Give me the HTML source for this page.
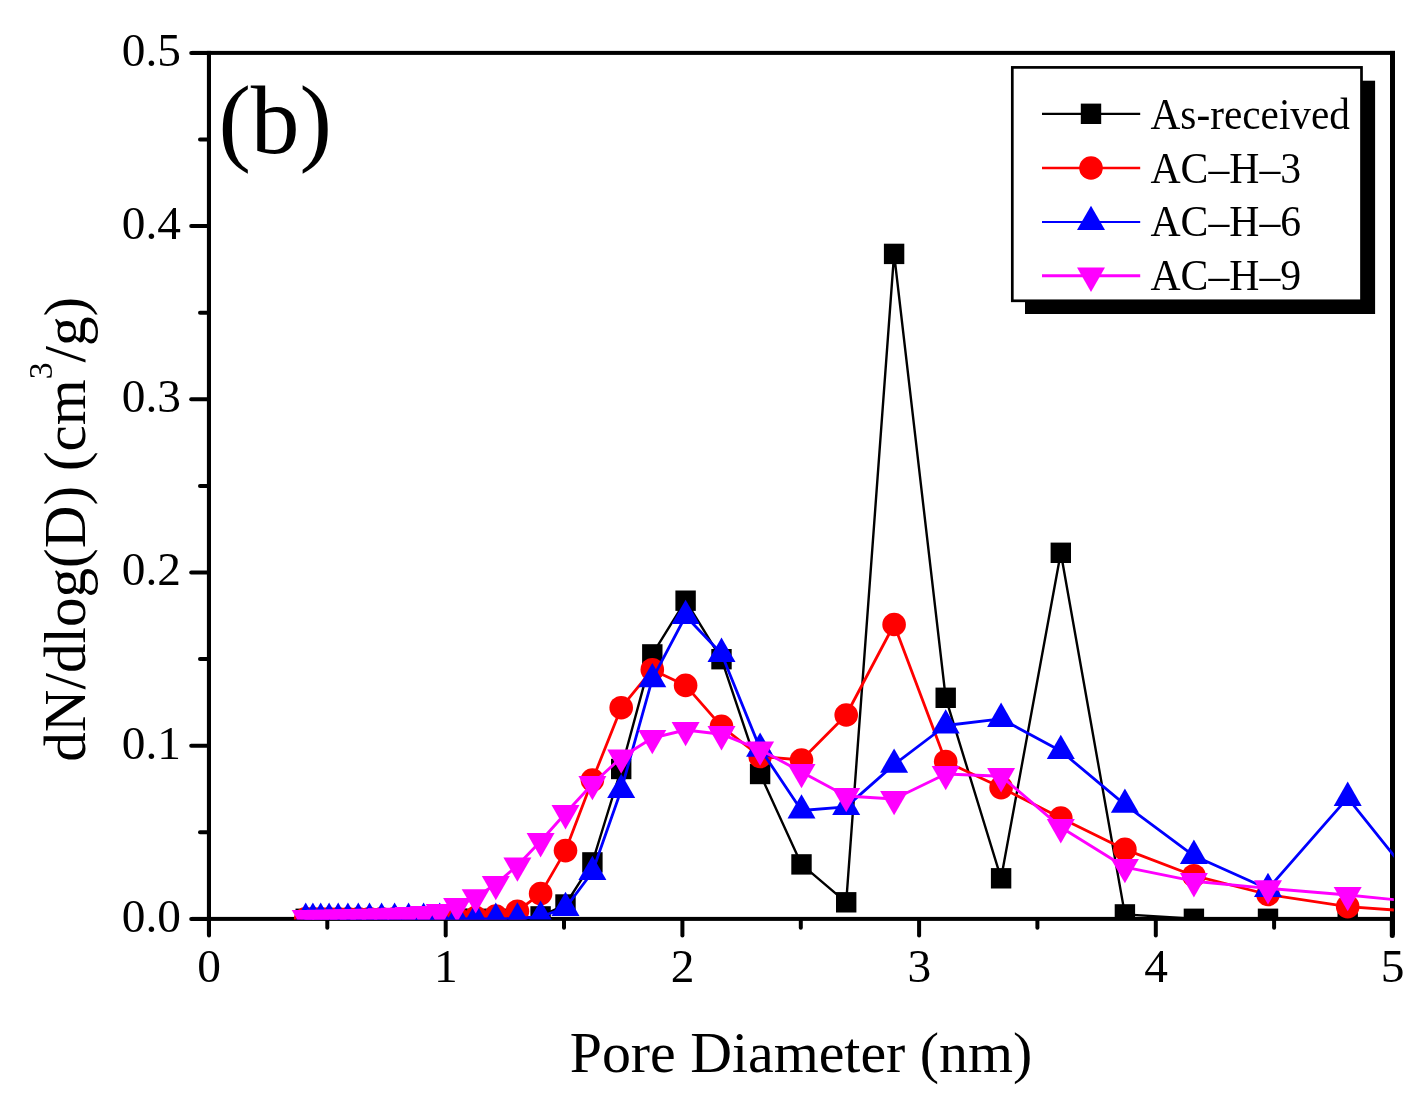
<!DOCTYPE html>
<html><head><meta charset="utf-8"><title>Pore size distribution (b)</title>
<style>
html,body{margin:0;padding:0;background:#fff;}
svg{display:block;}
text{font-family:"Liberation Serif","Times New Roman",serif;fill:#000;}
</style></head><body>
<svg width="1421" height="1095" viewBox="0 0 1421 1095">
<rect x="0" y="0" width="1421" height="1095" fill="#fff"/>
<defs><clipPath id="plot"><rect x="209.2" y="52.9" width="1184.6" height="866.6"/></clipPath></defs>

<g fill="#000">
<rect x="192" y="50.9" width="1203" height="4"/>
<rect x="192" y="916.9" width="1203" height="4"/>
<rect x="206.9" y="50.9" width="4.1" height="884"/>
<rect x="1390" y="50.9" width="5" height="884"/>
</g><g stroke="#000" stroke-width="4" stroke-linecap="round">
<line x1="191.2" y1="918.9" x2="208" y2="918.9"/>
<line x1="200" y1="832.3" x2="208" y2="832.3"/>
<line x1="191.2" y1="745.7" x2="208" y2="745.7"/>
<line x1="200" y1="659.1" x2="208" y2="659.1"/>
<line x1="191.2" y1="572.5" x2="208" y2="572.5"/>
<line x1="200" y1="485.9" x2="208" y2="485.9"/>
<line x1="191.2" y1="399.3" x2="208" y2="399.3"/>
<line x1="200" y1="312.7" x2="208" y2="312.7"/>
<line x1="191.2" y1="226.1" x2="208" y2="226.1"/>
<line x1="200" y1="139.5" x2="208" y2="139.5"/>
<line x1="191.2" y1="52.9" x2="208" y2="52.9"/>
<line x1="209" y1="919" x2="209" y2="935.6"/>
<line x1="327.3" y1="919" x2="327.3" y2="927.8"/>
<line x1="445.7" y1="919" x2="445.7" y2="935.6"/>
<line x1="564" y1="919" x2="564" y2="927.8"/>
<line x1="682.4" y1="919" x2="682.4" y2="935.6"/>
<line x1="800.8" y1="919" x2="800.8" y2="927.8"/>
<line x1="919.1" y1="919" x2="919.1" y2="935.6"/>
<line x1="1037.4" y1="919" x2="1037.4" y2="927.8"/>
<line x1="1155.8" y1="919" x2="1155.8" y2="935.6"/>
<line x1="1274.1" y1="919" x2="1274.1" y2="927.8"/>
<line x1="1392.3" y1="919" x2="1392.3" y2="935.6" stroke-width="5"/>
</g>
<g font-size="47.4">
<text x="181" y="931.7" text-anchor="end" textLength="59.2" lengthAdjust="spacingAndGlyphs">0.0</text>
<text x="181" y="758.5" text-anchor="end" textLength="59.2" lengthAdjust="spacingAndGlyphs">0.1</text>
<text x="181" y="585.3" text-anchor="end" textLength="59.2" lengthAdjust="spacingAndGlyphs">0.2</text>
<text x="181" y="412.1" text-anchor="end" textLength="59.2" lengthAdjust="spacingAndGlyphs">0.3</text>
<text x="181" y="238.9" text-anchor="end" textLength="59.2" lengthAdjust="spacingAndGlyphs">0.4</text>
<text x="181" y="65.7" text-anchor="end" textLength="59.2" lengthAdjust="spacingAndGlyphs">0.5</text>
<text x="209.2" y="982.4" text-anchor="middle">0</text>
<text x="445.9" y="982.4" text-anchor="middle">1</text>
<text x="682.6" y="982.4" text-anchor="middle">2</text>
<text x="919.3" y="982.4" text-anchor="middle">3</text>
<text x="1156" y="982.4" text-anchor="middle">4</text>
<text x="1392.7" y="982.4" text-anchor="middle">5</text>
</g>
<text x="801" y="1071.5" font-size="57.2" text-anchor="middle" textLength="462.5" lengthAdjust="spacingAndGlyphs">Pore Diameter (nm)</text>
<text transform="translate(84.8,761.7) rotate(-90)" font-size="59" textLength="465" lengthAdjust="spacingAndGlyphs">dN/dlog(D) (cm<tspan font-size="33.5" dy="-33">3</tspan><tspan dy="33">/g)</tspan></text>
<text x="218.4" y="153.4" font-size="97.5">(b)</text>
<g clip-path="url(#plot)">
<polyline points="305.7,918.8 312.9,918.8 320.7,918.8 329.1,918.8 338.2,918.8 347.9,918.8 358.3,918.8 369.5,918.8 381.6,918.8 394.6,918.8 408.6,918.8 423.6,918.8 439.7,918.8 457.1,918.8 475.7,918.8 495.8,918.8 517.4,918.8 540.6,916.4 565.5,904.5 592.4,862.4 621.2,769 652.3,654.4 685.6,600.7 721.5,659.2 760.1,774 801.5,864.4 846.2,902.3 894.1,253.9 945.7,697.8 1001.1,878.3 1060.8,552.8 1124.9,914.4 1193.9,918.8 1268,918.8 1347.7,918.8 1433.5,918.8" fill="none" stroke="#000" stroke-width="2.4" stroke-linejoin="round"/>
<rect x="295.5" y="908.6" width="20.4" height="20.4" fill="#000"/>
<rect x="302.7" y="908.6" width="20.4" height="20.4" fill="#000"/>
<rect x="310.5" y="908.6" width="20.4" height="20.4" fill="#000"/>
<rect x="318.9" y="908.6" width="20.4" height="20.4" fill="#000"/>
<rect x="328" y="908.6" width="20.4" height="20.4" fill="#000"/>
<rect x="337.7" y="908.6" width="20.4" height="20.4" fill="#000"/>
<rect x="348.1" y="908.6" width="20.4" height="20.4" fill="#000"/>
<rect x="359.3" y="908.6" width="20.4" height="20.4" fill="#000"/>
<rect x="371.4" y="908.6" width="20.4" height="20.4" fill="#000"/>
<rect x="384.4" y="908.6" width="20.4" height="20.4" fill="#000"/>
<rect x="398.4" y="908.6" width="20.4" height="20.4" fill="#000"/>
<rect x="413.4" y="908.6" width="20.4" height="20.4" fill="#000"/>
<rect x="429.5" y="908.6" width="20.4" height="20.4" fill="#000"/>
<rect x="446.9" y="908.6" width="20.4" height="20.4" fill="#000"/>
<rect x="465.5" y="908.6" width="20.4" height="20.4" fill="#000"/>
<rect x="485.6" y="908.6" width="20.4" height="20.4" fill="#000"/>
<rect x="507.2" y="908.6" width="20.4" height="20.4" fill="#000"/>
<rect x="530.4" y="906.2" width="20.4" height="20.4" fill="#000"/>
<rect x="555.3" y="894.3" width="20.4" height="20.4" fill="#000"/>
<rect x="582.2" y="852.2" width="20.4" height="20.4" fill="#000"/>
<rect x="611" y="758.8" width="20.4" height="20.4" fill="#000"/>
<rect x="642.1" y="644.2" width="20.4" height="20.4" fill="#000"/>
<rect x="675.4" y="590.5" width="20.4" height="20.4" fill="#000"/>
<rect x="711.3" y="649" width="20.4" height="20.4" fill="#000"/>
<rect x="749.9" y="763.8" width="20.4" height="20.4" fill="#000"/>
<rect x="791.3" y="854.2" width="20.4" height="20.4" fill="#000"/>
<rect x="836" y="892.1" width="20.4" height="20.4" fill="#000"/>
<rect x="883.9" y="243.7" width="20.4" height="20.4" fill="#000"/>
<rect x="935.5" y="687.6" width="20.4" height="20.4" fill="#000"/>
<rect x="990.9" y="868.1" width="20.4" height="20.4" fill="#000"/>
<rect x="1050.6" y="542.6" width="20.4" height="20.4" fill="#000"/>
<rect x="1114.7" y="904.2" width="20.4" height="20.4" fill="#000"/>
<rect x="1183.7" y="908.6" width="20.4" height="20.4" fill="#000"/>
<rect x="1257.8" y="908.6" width="20.4" height="20.4" fill="#000"/>
<rect x="1337.5" y="908.6" width="20.4" height="20.4" fill="#000"/>
<rect x="1423.3" y="908.6" width="20.4" height="20.4" fill="#000"/>
<polyline points="305.7,918.8 312.9,918.8 320.7,918.8 329.1,918.8 338.2,918.8 347.9,918.8 358.3,918.8 369.5,918.8 381.6,918.8 394.6,918.8 408.6,918.8 423.6,918.8 439.7,918.8 457.1,918.2 475.7,917.5 495.8,916 517.4,911.2 540.6,893.6 565.5,850.6 592.4,780.1 621.2,707.7 652.3,669.7 685.6,685.4 721.5,726.3 760.1,756.5 801.5,760 846.2,715 894.1,624.5 945.7,761.5 1001.1,787.6 1060.8,818 1124.9,849.4 1193.9,875.7 1268,894.5 1347.7,906.7 1433.5,912.8" fill="none" stroke="#f00" stroke-width="2.8" stroke-linejoin="round"/>
<circle cx="305.7" cy="918.8" r="11.8" fill="#f00"/>
<circle cx="312.9" cy="918.8" r="11.8" fill="#f00"/>
<circle cx="320.7" cy="918.8" r="11.8" fill="#f00"/>
<circle cx="329.1" cy="918.8" r="11.8" fill="#f00"/>
<circle cx="338.2" cy="918.8" r="11.8" fill="#f00"/>
<circle cx="347.9" cy="918.8" r="11.8" fill="#f00"/>
<circle cx="358.3" cy="918.8" r="11.8" fill="#f00"/>
<circle cx="369.5" cy="918.8" r="11.8" fill="#f00"/>
<circle cx="381.6" cy="918.8" r="11.8" fill="#f00"/>
<circle cx="394.6" cy="918.8" r="11.8" fill="#f00"/>
<circle cx="408.6" cy="918.8" r="11.8" fill="#f00"/>
<circle cx="423.6" cy="918.8" r="11.8" fill="#f00"/>
<circle cx="439.7" cy="918.8" r="11.8" fill="#f00"/>
<circle cx="457.1" cy="918.2" r="11.8" fill="#f00"/>
<circle cx="475.7" cy="917.5" r="11.8" fill="#f00"/>
<circle cx="495.8" cy="916" r="11.8" fill="#f00"/>
<circle cx="517.4" cy="911.2" r="11.8" fill="#f00"/>
<circle cx="540.6" cy="893.6" r="11.8" fill="#f00"/>
<circle cx="565.5" cy="850.6" r="11.8" fill="#f00"/>
<circle cx="592.4" cy="780.1" r="11.8" fill="#f00"/>
<circle cx="621.2" cy="707.7" r="11.8" fill="#f00"/>
<circle cx="652.3" cy="669.7" r="11.8" fill="#f00"/>
<circle cx="685.6" cy="685.4" r="11.8" fill="#f00"/>
<circle cx="721.5" cy="726.3" r="11.8" fill="#f00"/>
<circle cx="760.1" cy="756.5" r="11.8" fill="#f00"/>
<circle cx="801.5" cy="760" r="11.8" fill="#f00"/>
<circle cx="846.2" cy="715" r="11.8" fill="#f00"/>
<circle cx="894.1" cy="624.5" r="11.8" fill="#f00"/>
<circle cx="945.7" cy="761.5" r="11.8" fill="#f00"/>
<circle cx="1001.1" cy="787.6" r="11.8" fill="#f00"/>
<circle cx="1060.8" cy="818" r="11.8" fill="#f00"/>
<circle cx="1124.9" cy="849.4" r="11.8" fill="#f00"/>
<circle cx="1193.9" cy="875.7" r="11.8" fill="#f00"/>
<circle cx="1268" cy="894.5" r="11.8" fill="#f00"/>
<circle cx="1347.7" cy="906.7" r="11.8" fill="#f00"/>
<circle cx="1433.5" cy="912.8" r="11.8" fill="#f00"/>
<polyline points="305.7,918.8 312.9,918.8 320.7,918.8 329.1,918.8 338.2,918.8 347.9,918.8 358.3,918.8 369.5,918.8 381.6,918.8 394.6,918.8 408.6,918.8 423.6,918.8 439.7,918.8 457.1,918.8 475.7,918.8 495.8,918.8 517.4,918.5 540.6,916.7 565.5,907.9 592.4,872 621.2,790 652.3,679.2 685.6,616 721.5,653.8 760.1,748.6 801.5,810.5 846.2,806.9 894.1,764.6 945.7,725.5 1001.1,718.8 1060.8,751 1124.9,804.6 1193.9,855.8 1268,889 1347.7,797.8 1433.5,905.3" fill="none" stroke="#00f" stroke-width="2.8" stroke-linejoin="round"/>
<polygon points="305.7,902.6 291.7,926.9 319.7,926.9" fill="#00f"/>
<polygon points="312.9,902.6 298.9,926.9 326.9,926.9" fill="#00f"/>
<polygon points="320.7,902.6 306.7,926.9 334.7,926.9" fill="#00f"/>
<polygon points="329.1,902.6 315.1,926.9 343.1,926.9" fill="#00f"/>
<polygon points="338.2,902.6 324.2,926.9 352.2,926.9" fill="#00f"/>
<polygon points="347.9,902.6 333.9,926.9 361.9,926.9" fill="#00f"/>
<polygon points="358.3,902.6 344.3,926.9 372.3,926.9" fill="#00f"/>
<polygon points="369.5,902.6 355.5,926.9 383.5,926.9" fill="#00f"/>
<polygon points="381.6,902.6 367.6,926.9 395.6,926.9" fill="#00f"/>
<polygon points="394.6,902.6 380.6,926.9 408.6,926.9" fill="#00f"/>
<polygon points="408.6,902.6 394.6,926.9 422.6,926.9" fill="#00f"/>
<polygon points="423.6,902.6 409.6,926.9 437.6,926.9" fill="#00f"/>
<polygon points="439.7,902.6 425.7,926.9 453.7,926.9" fill="#00f"/>
<polygon points="457.1,902.6 443.1,926.9 471.1,926.9" fill="#00f"/>
<polygon points="475.7,902.6 461.7,926.9 489.7,926.9" fill="#00f"/>
<polygon points="495.8,902.6 481.8,926.9 509.8,926.9" fill="#00f"/>
<polygon points="517.4,902.3 503.4,926.6 531.4,926.6" fill="#00f"/>
<polygon points="540.6,900.5 526.6,924.8 554.6,924.8" fill="#00f"/>
<polygon points="565.5,891.7 551.5,916 579.5,916" fill="#00f"/>
<polygon points="592.4,855.8 578.4,880.1 606.4,880.1" fill="#00f"/>
<polygon points="621.2,773.8 607.2,798.1 635.2,798.1" fill="#00f"/>
<polygon points="652.3,663 638.3,687.3 666.3,687.3" fill="#00f"/>
<polygon points="685.6,599.8 671.6,624.1 699.6,624.1" fill="#00f"/>
<polygon points="721.5,637.6 707.5,661.9 735.5,661.9" fill="#00f"/>
<polygon points="760.1,732.4 746.1,756.7 774.1,756.7" fill="#00f"/>
<polygon points="801.5,794.3 787.5,818.6 815.5,818.6" fill="#00f"/>
<polygon points="846.2,790.7 832.2,815 860.2,815" fill="#00f"/>
<polygon points="894.1,748.4 880.1,772.7 908.1,772.7" fill="#00f"/>
<polygon points="945.7,709.3 931.7,733.6 959.7,733.6" fill="#00f"/>
<polygon points="1001.1,702.6 987.1,726.9 1015.1,726.9" fill="#00f"/>
<polygon points="1060.8,734.8 1046.8,759.1 1074.8,759.1" fill="#00f"/>
<polygon points="1124.9,788.4 1110.9,812.7 1138.9,812.7" fill="#00f"/>
<polygon points="1193.9,839.6 1179.9,863.9 1207.9,863.9" fill="#00f"/>
<polygon points="1268,872.8 1254,897.1 1282,897.1" fill="#00f"/>
<polygon points="1347.7,781.6 1333.7,805.9 1361.7,805.9" fill="#00f"/>
<polygon points="1433.5,889.1 1419.5,913.4 1447.5,913.4" fill="#00f"/>
<polyline points="305.7,918 312.9,918 320.7,917.9 329.1,917.8 338.2,917.6 347.9,917.3 358.3,917.1 369.5,916.8 381.6,916.4 394.6,915.8 408.6,915 423.6,914 439.7,912.2 457.1,906.1 475.7,897.4 495.8,884 517.4,865.6 540.6,841.2 565.5,813.2 592.4,784 621.2,757.6 652.3,738 685.6,730 721.5,734.2 760.1,749.6 801.5,772 846.2,796 894.1,799 945.7,774 1001.1,776.2 1060.8,827.2 1124.9,867.1 1193.9,881.2 1268,888.4 1347.7,895 1433.5,903.6" fill="none" stroke="#f0f" stroke-width="2.9" stroke-linejoin="round"/>
<polygon points="305.7,934.2 291.7,909.9 319.7,909.9" fill="#f0f"/>
<polygon points="312.9,934.2 298.9,909.9 326.9,909.9" fill="#f0f"/>
<polygon points="320.7,934.1 306.7,909.8 334.7,909.8" fill="#f0f"/>
<polygon points="329.1,934 315.1,909.7 343.1,909.7" fill="#f0f"/>
<polygon points="338.2,933.8 324.2,909.5 352.2,909.5" fill="#f0f"/>
<polygon points="347.9,933.5 333.9,909.2 361.9,909.2" fill="#f0f"/>
<polygon points="358.3,933.3 344.3,909 372.3,909" fill="#f0f"/>
<polygon points="369.5,933 355.5,908.7 383.5,908.7" fill="#f0f"/>
<polygon points="381.6,932.6 367.6,908.3 395.6,908.3" fill="#f0f"/>
<polygon points="394.6,932 380.6,907.7 408.6,907.7" fill="#f0f"/>
<polygon points="408.6,931.2 394.6,906.9 422.6,906.9" fill="#f0f"/>
<polygon points="423.6,930.2 409.6,905.9 437.6,905.9" fill="#f0f"/>
<polygon points="439.7,928.4 425.7,904.1 453.7,904.1" fill="#f0f"/>
<polygon points="457.1,922.3 443.1,898 471.1,898" fill="#f0f"/>
<polygon points="475.7,913.6 461.7,889.3 489.7,889.3" fill="#f0f"/>
<polygon points="495.8,900.2 481.8,875.9 509.8,875.9" fill="#f0f"/>
<polygon points="517.4,881.8 503.4,857.5 531.4,857.5" fill="#f0f"/>
<polygon points="540.6,857.4 526.6,833.1 554.6,833.1" fill="#f0f"/>
<polygon points="565.5,829.4 551.5,805.1 579.5,805.1" fill="#f0f"/>
<polygon points="592.4,800.2 578.4,775.9 606.4,775.9" fill="#f0f"/>
<polygon points="621.2,773.8 607.2,749.5 635.2,749.5" fill="#f0f"/>
<polygon points="652.3,754.2 638.3,729.9 666.3,729.9" fill="#f0f"/>
<polygon points="685.6,746.2 671.6,721.9 699.6,721.9" fill="#f0f"/>
<polygon points="721.5,750.4 707.5,726.1 735.5,726.1" fill="#f0f"/>
<polygon points="760.1,765.8 746.1,741.5 774.1,741.5" fill="#f0f"/>
<polygon points="801.5,788.2 787.5,763.9 815.5,763.9" fill="#f0f"/>
<polygon points="846.2,812.2 832.2,787.9 860.2,787.9" fill="#f0f"/>
<polygon points="894.1,815.2 880.1,790.9 908.1,790.9" fill="#f0f"/>
<polygon points="945.7,790.2 931.7,765.9 959.7,765.9" fill="#f0f"/>
<polygon points="1001.1,792.4 987.1,768.1 1015.1,768.1" fill="#f0f"/>
<polygon points="1060.8,843.4 1046.8,819.1 1074.8,819.1" fill="#f0f"/>
<polygon points="1124.9,883.3 1110.9,859 1138.9,859" fill="#f0f"/>
<polygon points="1193.9,897.4 1179.9,873.1 1207.9,873.1" fill="#f0f"/>
<polygon points="1268,904.6 1254,880.3 1282,880.3" fill="#f0f"/>
<polygon points="1347.7,911.2 1333.7,886.9 1361.7,886.9" fill="#f0f"/>
<polygon points="1433.5,919.8 1419.5,895.5 1447.5,895.5" fill="#f0f"/>
</g>
<rect x="1025" y="80.7" width="350.1" height="233.3" fill="#000"/>
<rect x="1012.3" y="67.4" width="349.2" height="233.4" fill="#fff" stroke="#000" stroke-width="2.7"/>
<line x1="1042" y1="113.8" x2="1140.2" y2="113.8" stroke="#000" stroke-width="2.2"/>
<rect x="1080.8" y="103.6" width="20.4" height="20.4" fill="#000"/>
<text x="1150.5" y="128.9" font-size="44" textLength="199.5" lengthAdjust="spacingAndGlyphs">As-received</text>
<line x1="1042" y1="168" x2="1140.2" y2="168" stroke="#f00" stroke-width="2.4"/>
<circle cx="1091" cy="168" r="11.8" fill="#f00"/>
<text x="1150.5" y="182.7" font-size="44" textLength="150.6" lengthAdjust="spacingAndGlyphs">AC–H–3</text>
<line x1="1042" y1="222" x2="1140.2" y2="222" stroke="#00f" stroke-width="2.1"/>
<polygon points="1091,205.8 1077,230.1 1105,230.1" fill="#00f"/>
<text x="1150.5" y="236.2" font-size="44" textLength="150.6" lengthAdjust="spacingAndGlyphs">AC–H–6</text>
<line x1="1042" y1="275.7" x2="1140.2" y2="275.7" stroke="#f0f" stroke-width="3.0"/>
<polygon points="1091,291.9 1077,267.6 1105,267.6" fill="#f0f"/>
<text x="1150.5" y="289.9" font-size="44" textLength="150.6" lengthAdjust="spacingAndGlyphs">AC–H–9</text>
</svg></body></html>
